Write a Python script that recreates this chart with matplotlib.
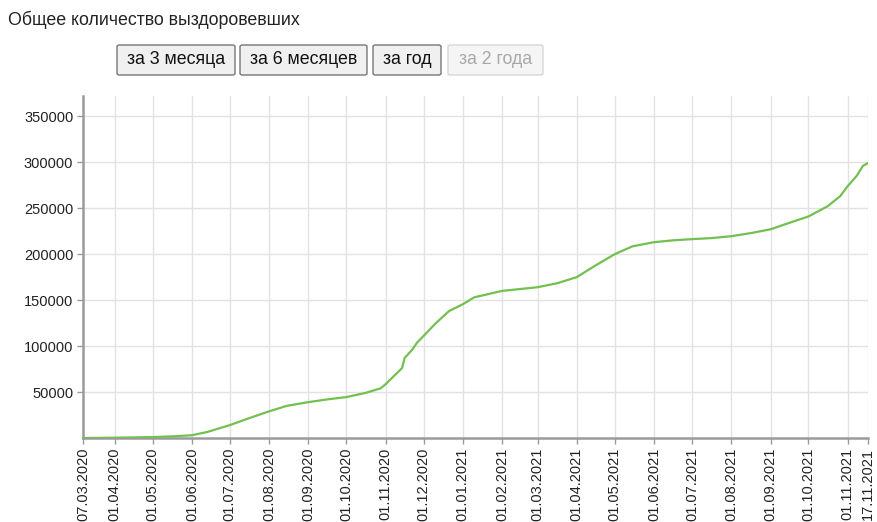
import numpy as np
import pandas as pd
import matplotlib
matplotlib.use('Agg')
import matplotlib.pyplot as plt
from matplotlib.patches import FancyBboxPatch

plt.rcParams['font.family'] = ['Liberation Sans', 'DejaVu Sans']

# recovered patients
dates = ['2020-03-07', '2020-04-01', '2020-05-01', '2020-05-20', '2020-06-01',
         '2020-06-13', '2020-07-01', '2020-07-14', '2020-08-01', '2020-08-15',
         '2020-09-01', '2020-09-16', '2020-10-01', '2020-10-16', '2020-10-28',
         '2020-11-01', '2020-11-08', '2020-11-14', '2020-11-16', '2020-11-22',
         '2020-11-26', '2020-12-01', '2020-12-10', '2020-12-21', '2021-01-01',
         '2021-01-10', '2021-01-21', '2021-02-01', '2021-02-15', '2021-03-01',
         '2021-03-17', '2021-04-01', '2021-04-15', '2021-05-01', '2021-05-15',
         '2021-06-01', '2021-06-16', '2021-07-01', '2021-07-16', '2021-08-01',
         '2021-08-17', '2021-09-01', '2021-09-18', '2021-10-01', '2021-10-16',
         '2021-10-26', '2021-11-01', '2021-11-08', '2021-11-13', '2021-11-17']
recovered = [0, 300, 1000, 2000, 3000,
             6500, 14000, 20500, 29000, 35000,
             39000, 42000, 44500, 49000, 54000,
             58500, 68000, 76000, 87000, 96000,
             104000, 111000, 124000, 138000, 145500,
             153000, 156500, 160000, 162000, 164000,
             168500, 175000, 187000, 200000, 208500,
             213000, 215000, 216300, 217400, 219500,
             223000, 227000, 235000, 241000, 252000,
             263000, 274000, 285000, 296000, 299000]

tick_dates = ['2020-03-07', '2020-04-01', '2020-05-01', '2020-06-01', '2020-07-01',
              '2020-08-01', '2020-09-01', '2020-10-01', '2020-11-01', '2020-12-01',
              '2021-01-01', '2021-02-01', '2021-03-01', '2021-04-01', '2021-05-01',
              '2021-06-01', '2021-07-01', '2021-08-01', '2021-09-01', '2021-10-01',
              '2021-11-01', '2021-11-17']
y_ticks = [50000, 100000, 150000, 200000, 250000, 300000, 350000]

title = 'Общее количество выздоровевших'
buttons = ['за 3 месяца', 'за 6 месяцев', 'за год', 'за 2 года']

W, H = 877, 522
fig = plt.figure(figsize=(W / 100, H / 100), dpi=100)
ax = fig.add_axes([83 / W, 1 - 438 / H, (868 - 83) / W, (438 - 96) / H])

x = pd.to_datetime(dates)
ax.plot(x, recovered, color='#72c04f', lw=1.6, zorder=3)

tx = pd.to_datetime(tick_dates)
ax.set_xlim(tx[0], tx[-1])
ax.set_ylim(0, 372000)
ax.set_xticks(tx)
ax.set_xticklabels([d.strftime('%d.%m.%Y') for d in tx], rotation=90,
                   fontsize=10.5, color='#222222')
ax.set_yticks(y_ticks)
ax.set_yticklabels([str(v) for v in y_ticks], fontsize=10.5, color='#222222')

ax.grid(True, color='#e2e2e2', lw=1)
ax.set_axisbelow(True)
for s in ['top', 'right']:
    ax.spines[s].set_visible(False)
for s in ['left', 'bottom']:
    ax.spines[s].set_color('#9a9a9a')
    ax.spines[s].set_linewidth(1.8)
ax.tick_params(length=4, width=1, color='#9a9a9a', pad=3)

fig.text(8 / W, 1 - 20 / H, title, fontsize=12.8, va='center', ha='left', color='#222222')

# buttons (pixel boxes: left, right)
boxes = [(117, 235), (240, 367), (373, 441), (448, 543)]
for i, (lbl, (x0, x1)) in enumerate(zip(buttons, boxes)):
    off = i == len(buttons) - 1
    y0, y1 = 45, 75
    p = FancyBboxPatch((x0 / W, 1 - y1 / H), (x1 - x0) / W, (y1 - y0) / H,
                       boxstyle='round,pad=0,rounding_size=0.003',
                       transform=fig.transFigure,
                       fc='#f0f0f0' if not off else '#f5f5f5',
                       ec='#777777' if not off else '#d6d6d6', lw=1)
    fig.patches.append(p)
    fig.text((x0 + x1) / 2 / W, 1 - (y0 + y1) / 2 / H, lbl, fontsize=12.8,
             ha='center', va='center', color='#111111' if not off else '#a8a8a8')

fig.savefig('out.png', dpi=100)
